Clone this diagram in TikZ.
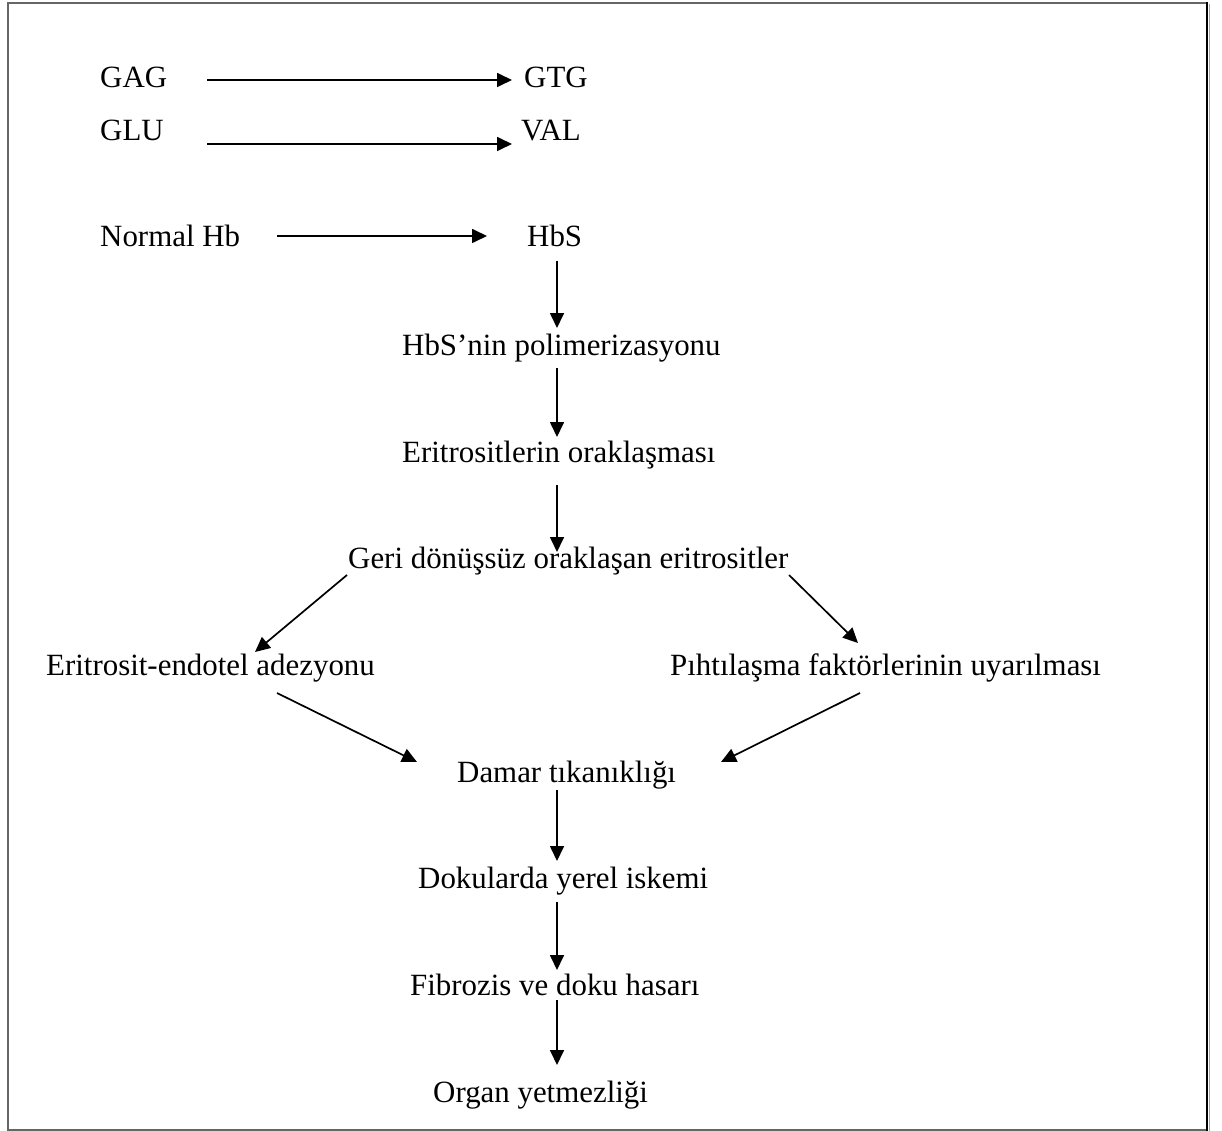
\documentclass[tikz,border=0pt]{standalone}
\usepackage{fontspec}
\setmainfont{Liberation Serif}
\usetikzlibrary{arrows.meta,calc}
\begin{document}
\begin{tikzpicture}[x=1pt,y=-1pt,
  lbl/.style={anchor=base west,inner sep=0pt,font=\fontsize{30.9}{37}\selectfont},
  arr/.style={line width=1.7pt,-{Triangle[length=15pt,width=14pt]}},
  frame/.style={line width=2pt,draw=black!60}]
\useasboundingbox (0,0) rectangle (1222,1131);
% outer frame
\draw[frame] (8,3) rectangle (1207,1130);
\draw[line width=2pt,black] (1207,2) -- (1207,1131);
\draw[line width=1pt,black!35] (1209.5,4) -- (1209.5,1131);

% codon and amino acid change
\node[lbl] (gag) at (100,88) {GAG};
\node[lbl] (gtg) at (524,88) {GTG};
\node[lbl] (glu) at (100,141) {GLU};
\node[lbl] (val) at (521,141) {VAL};
\node[lbl] (nhb) at (100,247) {Normal Hb};
\node[lbl] (hbs) at (527,247) {HbS};

% main chain
\node[lbl] (poly) at (402,355) {HbS’nin polimerizasyonu};
\node[lbl] (orak) at (402,462) {Eritrositlerin oraklaşması};
\node[lbl] (geri) at (348,568) {Geri dönüşsüz oraklaşan eritrositler};
\node[lbl] (adez) at (46,675) {Eritrosit-endotel adezyonu};
\node[lbl] (piht) at (670,675) {Pıhtılaşma faktörlerinin uyarılması};
\node[lbl] (damar) at (457,782) {Damar tıkanıklığı};
\node[lbl] (iske) at (418,888) {Dokularda yerel iskemi};
\node[lbl] (fibro) at (410,995) {Fibrozis ve doku hasarı};
\node[lbl] (organ) at (433,1102) {Organ yetmezliği};

\coordinate (axis) at (557,0);

% horizontal arrows
\draw[arr] ($(gag.base west)+(107,-8)$) -- ($(gtg.base west)+(-12,-8)$);
\draw[arr] ($(glu.base west)+(107,3)$) -- ($(val.base west)+(-9,3)$);
\draw[arr] ($(nhb.base west)+(177,-11)$) -- ($(hbs.base west)+(-40,-11)$);

% vertical arrows
\draw[arr,shorten <=14pt,shorten >=27pt] (axis |- hbs.base) -- (axis |- poly.base);
\draw[arr,shorten <=13pt,shorten >=25pt] (axis |- poly.base) -- (axis |- orak.base);
\draw[arr,shorten <=23pt,shorten >=16pt] (axis |- orak.base) -- (axis |- geri.base);
\draw[arr,shorten <=8pt,shorten >=27pt] (axis |- damar.base) -- (axis |- iske.base);
\draw[arr,shorten <=14pt,shorten >=25pt] (axis |- iske.base) -- (axis |- fibro.base);
\draw[arr,shorten <=5pt,shorten >=37pt] (axis |- fibro.base) -- (axis |- organ.base);

% branching arrows
\draw[arr] ($(geri.base west)+(-1,7)$) -- ($(adez.base west)+(209,-23)$);
\draw[arr] ($(geri.base west)+(441,7)$) -- ($(piht.base west)+(188,-32)$);
\draw[arr] ($(adez.base west)+(231,18)$) -- ($(damar.base west)+(-40,-20)$);
\draw[arr] ($(piht.base west)+(190,18)$) -- ($(damar.base west)+(264,-20)$);
\end{tikzpicture}
\end{document}
